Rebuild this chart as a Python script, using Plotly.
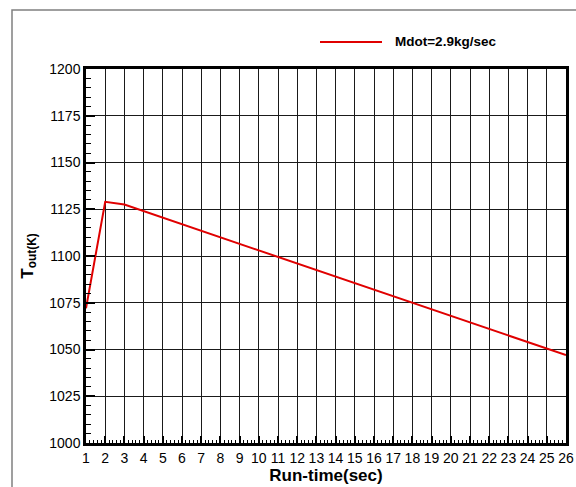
import plotly.graph_objects as go

run_time = [1, 2, 3, 4, 5, 6, 7, 8, 9, 10, 11, 12, 13, 14, 15, 16, 17, 18, 19, 20, 21, 22, 23, 24, 25, 26]
t_out = [1072, 1129, 1127.5, 1124, 1120.5, 1117, 1113.5, 1110, 1106.5, 1103, 1099.5, 1096, 1092.5,
         1089, 1085.5, 1082, 1078.5, 1075, 1071.5, 1068, 1064.5, 1061, 1057.5, 1054, 1050.5, 1047]
series_name = "Mdot=2.9kg/sec"
x_ticks = list(range(1, 27))
y_ticks = [1000, 1025, 1050, 1075, 1100, 1125, 1150, 1175, 1200]

L, R, T, B = 86, 10, 69, 44
W, H = 576, 487
pw, ph = W - L - R, H - T - B

def px(x):
    return (x - L) / pw

def py(y):
    return 1 - (y - T) / ph

fig = go.Figure()
fig.add_trace(go.Scatter(x=run_time, y=t_out, mode="lines", name=series_name,
                         line=dict(color="#e00000", width=2), showlegend=False))

font = "Liberation Sans, Arial, sans-serif"
fig.update_layout(
    width=W, height=H,
    margin=dict(l=L, r=R, t=T, b=B, autoexpand=False),
    paper_bgcolor="white", plot_bgcolor="white",
    font=dict(family=font, color="black", size=14),
    xaxis=dict(
        range=[1, 26], tickvals=x_ticks, ticktext=[str(v) for v in x_ticks],
        showgrid=True, gridcolor="#1a1a1a", gridwidth=1,
        showline=True, linecolor="black", linewidth=2.5, mirror=True,
        ticks="inside", ticklen=7, tickwidth=1.5, tickcolor="black",
        tickfont=dict(size=14),
        minor=dict(dtick=0.2, ticks="inside", ticklen=3, tickcolor="black", tickwidth=1, showgrid=False),
        zeroline=False, automargin=False,
        title=dict(text="<b>Run-time(sec)</b>", font=dict(size=17), standoff=2),
    ),
    yaxis=dict(
        range=[1000, 1200], tickvals=y_ticks,
        showgrid=True, gridcolor="#1a1a1a", gridwidth=1,
        showline=True, linecolor="black", linewidth=2.5, mirror=True,
        ticks="inside", ticklen=9, tickwidth=2, tickcolor="black",
        tickfont=dict(size=14),
        minor=dict(dtick=5, ticks="inside", ticklen=5, tickcolor="black", tickwidth=1, showgrid=False),
        zeroline=False, automargin=False,
        title=dict(text="<b>T<sub>out(K)</sub></b>", font=dict(size=17), standoff=12),
    ),
    shapes=[
        dict(type="rect", xref="paper", yref="paper",
             x0=px(12), x1=px(590), y0=py(10), y1=py(500),
             line=dict(color="#808080", width=1.5), fillcolor="rgba(0,0,0,0)", layer="below"),
        dict(type="line", xref="paper", yref="paper",
             x0=px(320), x1=px(382), y0=py(42), y1=py(42),
             line=dict(color="#e00000", width=2)),
    ],
    annotations=[
        dict(text="<b>" + series_name + "</b>", xref="paper", yref="paper",
             x=px(393), y=py(42), xanchor="left", yanchor="middle", showarrow=False,
             font=dict(size=13.5, family=font)),
    ],
)

fig.write_html("out.html", config={"displayModeBar": False},
               post_script="document.body.style.margin='0';document.body.style.overflow='hidden';")
